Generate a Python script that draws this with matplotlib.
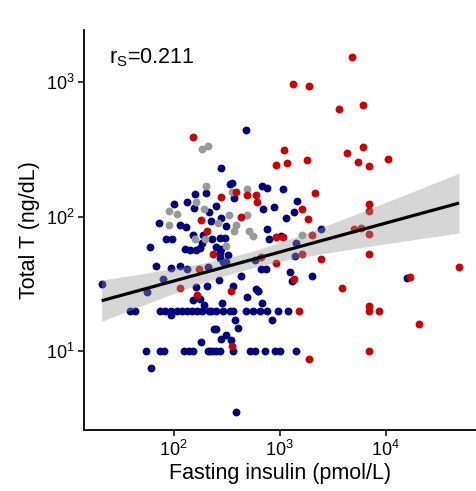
import numpy as np
import matplotlib
matplotlib.use("Agg")
import matplotlib.pyplot as plt
from matplotlib.ticker import LogFormatterMathtext, NullLocator

plt.rcParams['font.family'] = ['Liberation Sans', 'DejaVu Sans']
plt.rcParams['mathtext.fontset'] = 'custom'
plt.rcParams['mathtext.rm'] = 'Liberation Sans'

# ---- data (fasting insulin pmol/L, total T ng/dL) ----
blue_insulin = [159, 202, 100, 135, 155, 214, 227, 73, 116, 132, 85, 96, 153, 189, 184, 232,
                60, 129, 144, 164, 176, 68, 94, 116, 135, 211, 21, 80, 162, 206, 56,
                152, 179, 192,
                39, 43.5, 74, 83.5, 94, 107, 121, 133, 149, 166, 185, 215,
                94, 238, 182,
                55, 74, 80.5, 124, 139, 154, 209, 235,
                61,
                492, 624, 286, 681,
                227, 253, 292, 337, 363, 478, 560, 648, 759, 964, 1197,
                382, 853, 402, 253, 282, 314, 345,
                219, 253, 272, 363, 521, 581, 721, 897, 1000, 1416,
                391,
                478, 282, 337, 358, 681, 759, 1070, 371, 1460, 249, 696, 877, 1355,
                282, 1140, 310, 759, 793, 1020, 2440, 272, 303, 253, 282, 1416,
                272, 325, 272, 292, 314, 1386, 581, 671, 738, 1242, 2018, 1318,
                267, 435, 363, 603, 624, 15800]
blue_T = [147, 149, 124, 129, 117, 108, 93, 90, 87, 84, 68.6, 68.6, 72.6, 73.5, 64, 68,
          60, 57.5, 57, 56.6, 58.5, 43, 41.6, 43, 40.8, 42.3, 31.6, 34.6, 30, 30.5, 27.7,
          24.2, 24.4, 22.2,
          20, 20, 20, 20, 20, 20, 20, 20, 20, 20, 20, 20,
          18.7, 14.5, 11.6,
          10, 10, 10, 10, 10, 10, 10, 10,
          7.5,
          25.5, 27.9, 22.8, 23,
          20, 20, 20, 20, 20, 20, 20, 20, 20, 20, 20,
          17, 17, 14.9, 14.5, 12.4, 13.1, 12,
          10, 10, 10, 10, 10, 10, 10, 10, 10, 10,
          3.5,
          443, 230, 176, 178, 169, 164, 162, 138, 131, 121, 115, 119, 108,
          98, 98, 86, 80.5, 68.6, 71.5, 81, 69.5, 69.5, 60, 57.5, 63.7,
          53.7, 51.5, 49.3, 46, 46, 50.7, 47.9, 40.8, 40.8, 38.8, 36, 33,
          34, 36, 30.3, 29.2, 27.9, 35.2]

grey_insulin = [184, 209, 200, 164, 90, 107, 195, 90, 160, 199, 358, 496, 332, 496,
                262, 391, 371, 513, 560, 1610, 310]
grey_T = [320, 337, 170, 129, 111, 104, 115, 87, 68.6, 68.6, 153, 161, 103, 103,
          90, 87, 78, 78, 72, 73, 61]

red_insulin = [151, 1330, 1880, 3600, 6070, 4780, 1090, 916, 1160, 1800, 4290, 6070,
               5450, 10400, 6920, 6920, 6920, 4990, 5810, 6920, 6920, 48900, 16800,
               3850, 6920, 6920, 8590, 20500, 6920,
               180, 205, 233, 172, 116, 165, 385, 492, 594, 2140, 282, 617, 1610,
               435, 1850, 931, 1070, 2030, 1610, 671, 2440, 931, 1365, 350, 1510,
               355, 1880]
red_T = [393, 975, 940, 635, 680, 1550, 315, 244, 252, 265, 299, 331,
         256, 270, 239, 125, 111, 81.5, 83, 75, 53, 42.5, 35.8,
         29.6, 21.8, 20, 20, 16, 10,
         95, 78.7, 52.6, 41, 29.4, 26.3, 153, 146, 145, 149, 141, 129, 115,
         99.5, 97, 70.6, 70.6, 73.5, 53, 49.8, 48.7, 45, 34.6, 27.9, 20,
         11, 8.8]

# regression line on log10-log10 scale
fit_intercept = 1.090
fit_slope = 0.2158

annotation = r'$\mathregular{r_S}$=0.211'
xlabel = 'Fasting insulin (pmol/L)'
ylabel = 'Total T (ng/dL)'

# ---- figure ----
fig = plt.figure(figsize=(4.76, 4.91), dpi=100)
ax = fig.add_axes([84/476, 1-430/491, 1-84/476, (430-30)/491])

ax.scatter(blue_insulin, blue_T, s=32, color='#000080', linewidths=0, zorder=2)
ax.scatter(grey_insulin, grey_T, s=32, color='#999999', linewidths=0, zorder=2)
ax.scatter(red_insulin, red_T, s=32, color='#CC0000', linewidths=0, zorder=2)

# 95% confidence band of the linear fit (log-log)
allx = np.log10(np.array(blue_insulin + grey_insulin + red_insulin, float))
ally = np.log10(np.array(blue_T + grey_T + red_T, float))
n = len(allx)
X = np.column_stack([np.ones(n), allx])
beta = np.array([fit_intercept, fit_slope])
resid = ally - X @ beta
s2 = resid @ resid / (n - 2)
XtXi = np.linalg.inv(X.T @ X)
xs = np.linspace(allx.min(), allx.max(), 200)
Xs = np.column_stack([np.ones_like(xs), xs])
fit = Xs @ beta
se = np.sqrt(s2 * np.einsum('ij,jk,ik->i', Xs, XtXi, Xs))
tq = 1.97
ax.fill_between(10**xs, 10**(fit - tq*se), 10**(fit + tq*se), color='#999999',
                alpha=0.4, linewidth=0, zorder=3)
ax.plot(10**xs, 10**fit, color='black', linewidth=2.3, zorder=4,
        solid_capstyle='butt')

ax.set_xscale('log')
ax.set_yscale('log')
ax.set_xlim(10**1.156, 10**4.849)
ax.set_ylim(10**0.413, 10**3.39)
ax.set_xticks([1e2, 1e3, 1e4])
ax.set_yticks([1e1, 1e2, 1e3])
ax.xaxis.set_minor_locator(NullLocator())
ax.yaxis.set_minor_locator(NullLocator())
ax.xaxis.set_major_formatter(LogFormatterMathtext())
ax.yaxis.set_major_formatter(LogFormatterMathtext())

for side in ['top', 'right']:
    ax.spines[side].set_visible(False)
for side in ['left', 'bottom']:
    ax.spines[side].set_linewidth(1.3)
    ax.spines[side].set_color('black')
ax.tick_params(axis='both', which='major', direction='out', length=4, width=1.1,
               color='black', labelsize=13, labelcolor='black', pad=3)

ax.set_xlabel(xlabel, fontsize=15.5, labelpad=2)
ax.set_ylabel(ylabel, fontsize=15.5, labelpad=4)

ax.text(0.065, 0.93, annotation, transform=ax.transAxes, fontsize=15.5,
        ha='left', va='center')

fig.savefig('out.png', dpi=100)
